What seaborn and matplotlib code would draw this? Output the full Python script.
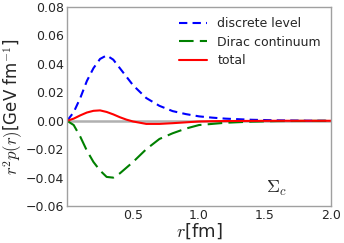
import matplotlib
matplotlib.use("Agg")
import matplotlib.pyplot as plt
import seaborn as sns
import pandas as pd

r = [0, 0.05, 0.1, 0.15, 0.2, 0.25, 0.3, 0.35, 0.4, 0.45, 0.5, 0.6, 0.7, 0.8,
     0.9, 1.0, 1.1, 1.2, 1.4, 1.6, 1.8, 2.0]
discrete = [0, 0.006, 0.016, 0.028, 0.037, 0.0435, 0.046, 0.043, 0.037, 0.031,
            0.025, 0.016, 0.0105, 0.0068, 0.0047, 0.0031, 0.0022, 0.0015,
            0.0007, 0.0003, 0.0001, 0.0]
dirac = [0, -0.003, -0.0112, -0.021, -0.029, -0.035, -0.0395, -0.040, -0.037,
         -0.033, -0.029, -0.020, -0.0128, -0.0088, -0.0055, -0.003, -0.0022,
         -0.0014, -0.0006, -0.0002, -0.0001, 0]
total = [0, 0.0015, 0.0038, 0.0058, 0.007, 0.0073, 0.0062, 0.0045, 0.0025,
         0.0008, -0.0005, -0.0022, -0.0022, -0.0017, -0.0011, -0.0005,
         -0.0003, -0.0002, -0.0001, 0, 0, 0]
labels = ["discrete level", "Dirac continuum", "total"]

df = pd.DataFrame({"r": r, "discrete": discrete, "dirac": dirac, "total": total})

sns.set_style("white")
plt.rcParams['font.family'] = ['DejaVu Sans']
plt.rcParams['mathtext.fontset'] = 'cm'
fig = plt.figure(figsize=(3.44, 2.43), dpi=100)
ax = fig.add_axes([0.195, 0.152, 0.767, 0.819])

ax.axhline(0, color="#b0b0b0", lw=1.8, zorder=1)
sns.lineplot(data=df, x="r", y="discrete", ax=ax, color="blue", lw=1.5,
             label=labels[0])
ax.lines[-1].set_dashes((4, 2.5))
sns.lineplot(data=df, x="r", y="dirac", ax=ax, color="green", lw=1.5,
             label=labels[1])
ax.lines[-1].set_dashes((7, 3))
sns.lineplot(data=df, x="r", y="total", ax=ax, color="red", lw=1.5,
             label=labels[2])

ax.set_xlim(0, 2.0)
ax.set_ylim(-0.06, 0.08)
ax.set_xticks([0.5, 1.0, 1.5, 2.0])
ax.set_xticklabels(["0.5", "1.0", "1.5", "2.0"])
ax.set_yticks([-0.06, -0.04, -0.02, 0.0, 0.02, 0.04, 0.06, 0.08])
ax.set_yticklabels(["\u22120.06", "\u22120.04", "\u22120.02", "0.00", "0.02",
                    "0.04", "0.06", "0.08"])
ax.tick_params(labelsize=9, length=0, pad=2)
for s in ax.spines.values():
    s.set_color("#a0a0a0")
    s.set_linewidth(1.0)

ax.set_xlabel(r"$r$[fm]", fontsize=13, labelpad=0)
ax.set_ylabel(r"$r^2p(r)$[GeV fm$^{-1}$]", fontsize=12, labelpad=1)
ax.text(1.51, -0.0505, r"$\Sigma_c$", fontsize=13)

ax.legend(loc="upper right", frameon=False, fontsize=9, handlelength=2.3,
          labelspacing=0.45, borderaxespad=0.4)

fig.savefig("out.png", dpi=100)
